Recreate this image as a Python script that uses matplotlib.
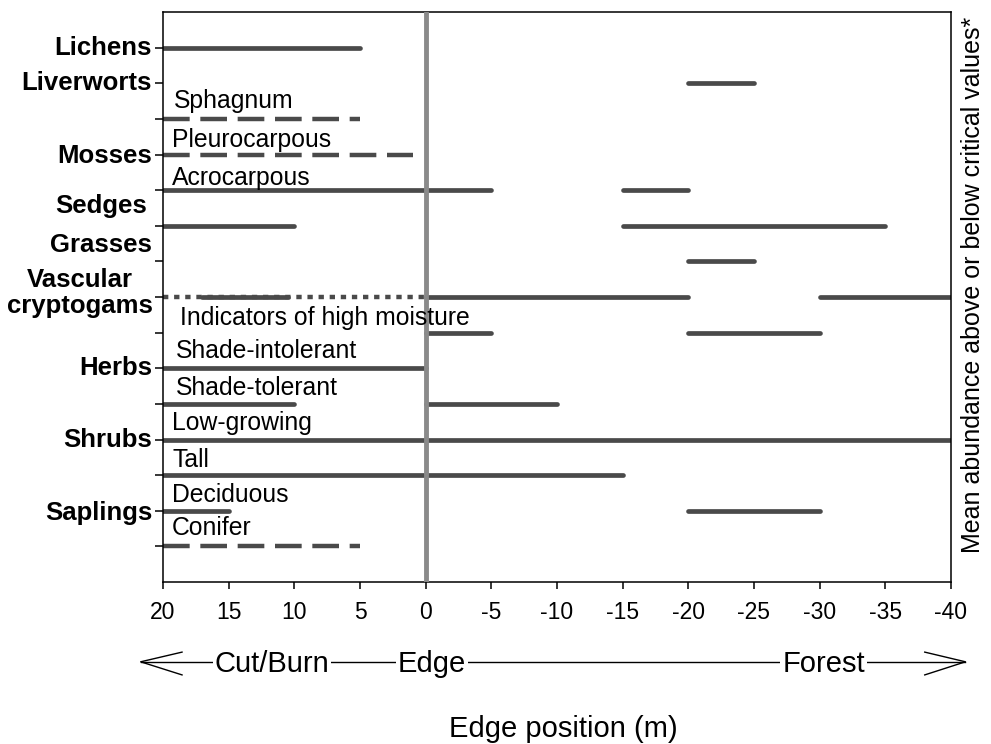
import matplotlib
matplotlib.use('Agg')
import matplotlib.pyplot as plt

plt.rcParams['font.family'] = ['Liberation Sans', 'DejaVu Sans']

# Positions along the transect (m): positive = cut/burn side, negative = forest
x_ticks = [20, 15, 10, 5, 0, -5, -10, -15, -20, -25, -30, -35, -40]
x_tick_labels = ['20', '15', '10', '5', '0', '-5', '-10', '-15', '-20',
                 '-25', '-30', '-35', '-40']

# Rows counted from the top (1..15)
row_names = ['Lichens', 'Liverworts', 'Sphagnum', 'Pleurocarpous',
             'Acrocarpous', 'Sedges', 'Grasses', 'Vascular cryptogams',
             'Indicators of high moisture', 'Shade-intolerant',
             'Shade-tolerant', 'Low-growing', 'Tall', 'Deciduous', 'Conifer']

# Edge-position ranges where abundance passes the critical value
solid_ranges = {
    1: [(20, 5)],
    2: [(-20, -25)],
    5: [(20, -5), (-15, -20)],
    6: [(20, 10), (-15, -35)],
    7: [(-20, -25)],
    8: [(17, 10.5), (0, -20), (-30, -40)],
    9: [(0, -5), (-20, -30)],
    10: [(20, 0)],
    11: [(20, 10), (0, -10)],
    12: [(20, -40)],
    13: [(20, -15)],
    14: [(20, 15), (-20, -30)],
}
dashed_ranges = {
    3: [(20, 5)],
    4: [(20, 1)],
    15: [(20, 5)],
}
dotted_ranges = {
    8: [(20, 0)],
}

# group labels (bold, left of the axis) and their baseline rows
group_labels = ['Lichens', 'Liverworts', 'Mosses', 'Sedges', 'Grasses',
                'Herbs', 'Shrubs', 'Saplings']
group_rows = [1.21, 2.19, 4.24, 5.65, 6.74, 10.2, 12.22, 14.27]

# sub-labels written inside the plot just above their line
sub_labels = ['Sphagnum', 'Pleurocarpous', 'Acrocarpous',
              'Indicators of high moisture', 'Shade-intolerant',
              'Shade-tolerant', 'Low-growing', 'Tall', 'Deciduous', 'Conifer']
sub_rows = [2.70, 3.80, 4.86, 8.79, 9.72, 10.76, 11.74, 12.78, 13.76, 14.69]
sub_x = [19.2, 19.3, 19.3, 18.7, 19.0, 19.0, 19.3, 19.3, 19.3, 19.3]

line_color = '#4a4a4a'

fig = plt.figure(figsize=(9.91, 7.44), dpi=100)
ax = fig.add_axes([163 / 991, 162 / 744, 788 / 991, 570 / 744])

for row, ranges in dotted_ranges.items():
    for a, b in ranges:
        ax.plot([a, b], [row, row], color=line_color, lw=3.2,
                linestyle=(0, (1.2, 1.3)), dash_capstyle='butt', zorder=2)

for row, ranges in dashed_ranges.items():
    for a, b in ranges:
        ax.plot([a, b], [row, row], color=line_color, lw=3.2,
                linestyle=(0, (6.0, 2.4)), dash_capstyle='butt', zorder=2)

for row, ranges in solid_ranges.items():
    for a, b in ranges:
        ax.plot([a, b], [row, row], color=line_color, lw=3.4,
                solid_capstyle='round', zorder=2)

# the edge itself
ax.axvline(0, color='#8a8a8a', lw=3.5, zorder=3)

ax.set_xlim(20, -40)
ax.set_ylim(16, 0)
ax.set_xticks(x_ticks)
ax.set_xticklabels(x_tick_labels, fontsize=16.5)
ax.set_yticks(range(1, 16))
ax.set_yticklabels([])
ax.tick_params(axis='x', direction='out', length=5, width=1.1, pad=9)
ax.tick_params(axis='y', direction='out', length=6, width=1.1)
for spine in ax.spines.values():
    spine.set_linewidth(1.1)

ytrans = ax.get_yaxis_transform()
for name, r in zip(group_labels, group_rows):
    xr = -0.020 if name == 'Sedges' else -0.014
    ax.text(xr, r, name, transform=ytrans, ha='right', va='baseline',
            fontsize=18.5, fontweight='bold')
ax.text(-0.105, 7.73, 'Vascular', transform=ytrans, ha='center',
        va='baseline', fontsize=18.5, fontweight='bold')
ax.text(-0.105, 8.46, 'cryptogams', transform=ytrans, ha='center',
        va='baseline', fontsize=18.5, fontweight='bold')

for name, r, x in zip(sub_labels, sub_rows, sub_x):
    ax.text(x, r, name, ha='left', va='baseline', fontsize=17.8)

ax.text(1.028, 0.521, 'Mean abundance above or below critical values*',
        transform=ax.transAxes, rotation=90, ha='center', va='center',
        fontsize=18)

# transect direction arrow under the axis
xtrans = ax.get_xaxis_transform()
arrow_y = -0.14
ax.plot([21.7, -41.1], [arrow_y, arrow_y], transform=xtrans, color='black',
        lw=1.0, clip_on=False)
ax.plot([18.55, 21.7, 18.55], [-0.123, arrow_y, -0.163], transform=xtrans,
        color='black', lw=1.0, clip_on=False)
ax.plot([-38.0, -41.1, -38.0], [-0.123, arrow_y, -0.163], transform=xtrans,
        color='black', lw=1.0, clip_on=False)
for label, xc in [('Cut/Burn', 11.7), ('Edge', -0.5), ('Forest', -30.3)]:
    ax.text(xc, -0.158, label, transform=xtrans, ha='center', va='baseline',
            fontsize=21,
            bbox=dict(facecolor='white', edgecolor='none', pad=1.5))

ax.text(0.5076, -0.272, 'Edge position (m)', transform=ax.transAxes,
        ha='center', va='baseline', fontsize=21)

fig.savefig('out.png', dpi=100)
